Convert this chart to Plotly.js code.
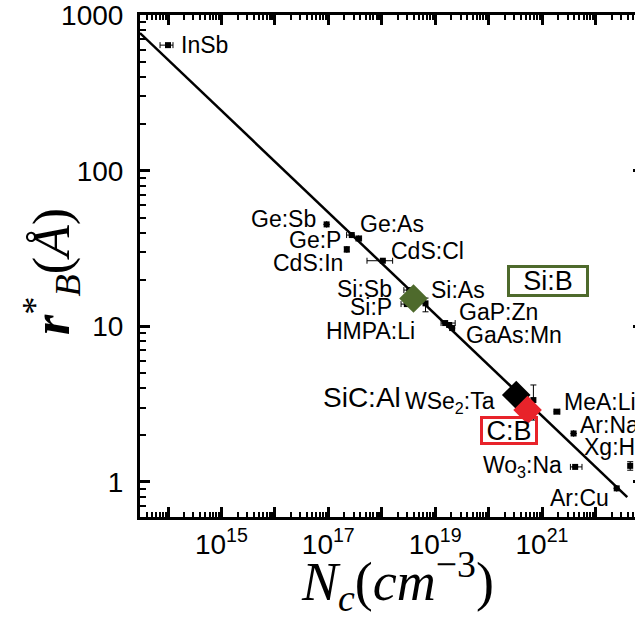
<!DOCTYPE html>
<html>
<head>
<meta charset="utf-8">
<script src="https://cdn.plot.ly/plotly-3.0.1.min.js"></script>
<style>
html,body{margin:0;padding:0;overflow:hidden;background:#fff;width:635px;height:621px;}
#chart{width:660px;height:621px;}
</style>
</head>
<body>
<div id="chart"></div>
<script>
// ---- data ----
const ptNames = ['InSb','Ge:Sb','Ge:P','Ge:As','CdS:In','CdS:Cl','Si:Sb','Si:P','Si:As','HMPA:Li','GaP:Zn','GaAs:Mn','WSe<sub>2</sub>:Ta','MeA:Li','Ar:Na','Wo<sub>3</sub>:Na','Ar:Cu','Xg:He'];
const ptNc   = [1.0e14, 9.3e16, 2.75e17, 3.66e17, 2.22e17, 1.05e18, 3.3e18, 2.95e18, 6.6e18, 1.54e19, 1.83e19, 2.08e19, 6.9e20, 1.9e21, 3.9e21, 4.17e21, 2.5e22, 4.47e22];
const ptRb   = [641, 45.2, 38.6, 36.7, 31.2, 26.4, 17.1, 13.9, 14.05, 10.5, 10.2, 9.75, 3.36, 2.83, 2.05, 1.25, 0.91, 1.27];
const ptNcLo = [7.1e13, null, 2.2e17, null, null, 5.3e17, 2.6e18, 2.3e18, null, 1.29e19, null, null, null, 1.67e21, null, 3.4e21, null, null];
const ptNcHi = [1.24e14, null, null, 4.2e17, null, 1.6e18, 4.2e18, 4.4e18, null, 2.37e19, null, null, null, 2.16e21, null, 5.6e21, null, null];
const ptRbLo = [null, null, null, null, 30.1, null, null, null, 12.4, null, null, null, 2.5, null, null, null, null, 1.19];
const ptRbHi = [null, null, null, null, 32.4, null, null, null, 15.2, null, null, null, 4.2, null, null, null, null, 1.35];

const hlNames = ['Si:B','SiC:Al','C:B'];
const hlNc    = [3.93e18, 3.29e20, 5.37e20];
const hlRb    = [15.1, 3.62, 2.90];

const fitNc = [2.99e13, 3.94e22];
const fitRb = [766, 0.80];

const xTickExp = [14,15,16,17,18,19,20,21,22];
const xLabelExp = [15,17,19,21];
const yTickVals = [1,10,100,1000];
const yTickText = ['1','10','100','1000'];
const xTitle = '<i>N</i><sub><i>c</i></sub>(<i>cm</i><sup>−3</sup>)';
const yTitle = '<b><i>r</i></b><sup>*</sup><sub><i>B</i></sub>(<i>Å</i>)';

// ---- styling / placement ----
const FONT = 'Liberation Sans, Arial, sans-serif';
const SERIF = 'Liberation Serif, DejaVu Serif, serif';
const labelPos = {
 'InSb':['left',12,0], 'Ge:Sb':['right',-10,5], 'Ge:P':['right',-10,-5], 'Ge:As':['left',1,14],
 'CdS:In':['right',-3,-14], 'CdS:Cl':['left',7,10], 'Si:Sb':['right',-16,1], 'Si:P':['right',-14,-3],
 'Si:As':['left',4,13], 'HMPA:Li':['right',-29,-8], 'GaP:Zn':['left',9,13], 'GaAs:Mn':['left',13,-7],
 'WSe<sub>2</sub>:Ta':['right',-37,-2], 'MeA:Li':['left',6,10], 'Ar:Na':['left',5,8],
 'Wo<sub>3</sub>:Na':['right',-12,0], 'Ar:Cu':['right',-7,-10], 'Xg:He':['left',-47,19]
};
const hlStyle = {
 'Si:B':  {color:'#4e6a2c', box:'#4e6a2c', xs:134.7, ys:17.3, w:76, h:26, size:27},
 'SiC:Al':{color:'#000000', box:null, xs:-114, ys:-2, size:28},
 'C:B':   {color:'#e8232a', box:'#e8232a', xs:-19, ys:-20.5, w:52, h:23, size:27}
};

const diff = (hi, c) => hi.map((h,i)=> h==null ? 0 : Math.abs(h - c[i]));

const traces = [
 {x:fitNc, y:fitRb, mode:'lines', line:{color:'#000', width:2.5}, hoverinfo:'skip'},
 {x:ptNc, y:ptRb, mode:'markers', marker:{symbol:'square', size:6, color:'#000'},
  error_x:{type:'data', symmetric:false, array:diff(ptNcHi,ptNc), arrayminus:diff(ptNcLo,ptNc), color:'#000', thickness:1, width:3},
  error_y:{type:'data', symmetric:false, array:diff(ptRbHi,ptRb), arrayminus:diff(ptRbLo,ptRb), color:'#000', thickness:1, width:3}},
 {x:hlNc, y:hlRb, mode:'markers', marker:{symbol:'diamond', size:22, color:hlNames.map(n=>hlStyle[n].color), line:{width:0}}}
];

const annotations = [];
ptNames.forEach((n,i)=>{
  const p = labelPos[n];
  annotations.push({x:Math.log10(ptNc[i]), y:Math.log10(ptRb[i]), xref:'x', yref:'y', text:n, showarrow:false,
    xanchor:p[0], yanchor:'middle', xshift:p[1], yshift:p[2], borderpad:0,
    font:{family:FONT, size:23, color:'#000'}});
});
hlNames.forEach((n,i)=>{
  const s = hlStyle[n];
  const a = {x:Math.log10(hlNc[i]), y:Math.log10(hlRb[i]), xref:'x', yref:'y', text:n, showarrow:false,
    yanchor:'middle', xshift:s.xs, yshift:s.ys, borderpad:0,
    font:{family:FONT, size:s.size, color:'#000'}};
  if (s.box) { a.xanchor='center'; a.bordercolor=s.box; a.borderwidth=3; a.width=s.w; a.height=s.h; a.align='center'; a.valign='middle'; }
  else { a.xanchor='right'; }
  annotations.push(a);
});
// axis titles
annotations.push({xref:'paper', yref:'paper', x:0.511, y:-0.128, text:xTitle, showarrow:false,
  xanchor:'center', yanchor:'middle', font:{family:SERIF, size:54, color:'#000'}});
annotations.push({xref:'paper', yref:'paper', x:-0.177, y:0.49, text:yTitle, showarrow:false, textangle:-90,
  xanchor:'center', yanchor:'middle', font:{family:SERIF, size:52, color:'#000'}});

const xMinor = [];
for (let e=13; e<=22; e++) for (let k=2; k<=9; k++) xMinor.push(k*Math.pow(10,e));
const yMinor = [];
for (let e=-1; e<=2; e++) for (let k=2; k<=9; k++) yMinor.push(k*Math.pow(10,e));

const axisCommon = {
  showline:true, linecolor:'#000', linewidth:3, mirror:'allticks',
  ticks:'inside', ticklen:10, tickwidth:3, tickcolor:'#000',
  showgrid:false, zeroline:false, ticklabeloverflow:'allow',
  tickfont:{family:FONT, size:28, color:'#000'}
};

const layout = {
  width:660, height:621,
  margin:{l:140, r:17, t:15, b:104},
  paper_bgcolor:'#fff', plot_bgcolor:'#fff',
  showlegend:false,
  xaxis:Object.assign({}, axisCommon, {
    type:'log', range:[13.476, 22.89],
    tickmode:'array',
    tickvals:xTickExp.map(e=>Math.pow(10,e)),
    ticktext:xTickExp.map(e=> xLabelExp.includes(e) ? '10<sup>'+e+'</sup>' : ''),
    minor:{tickmode:'array', tickvals:xMinor, ticks:'inside', ticklen:5, tickwidth:2, tickcolor:'#000', showgrid:false}
  }),
  yaxis:Object.assign({}, axisCommon, {
    type:'log', range:[-0.225, 3.0005],
    tickmode:'array', tickvals:yTickVals, ticktext:yTickText,
    ticklabelstandoff:8,
    minor:{tickmode:'array', tickvals:yMinor, ticks:'inside', ticklen:6, tickwidth:2, tickcolor:'#000', showgrid:false}
  }),
  annotations:annotations
};

Plotly.newPlot('chart', traces, layout, {displayModeBar:false, staticPlot:true});
</script>
</body>
</html>
